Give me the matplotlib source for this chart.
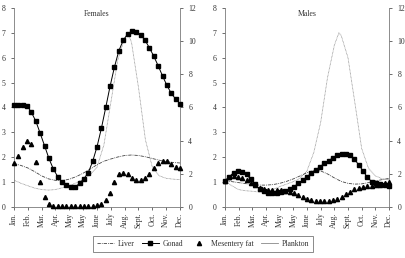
import matplotlib
matplotlib.use('Agg')
import matplotlib.pyplot as plt
import numpy as np
from matplotlib.lines import Line2D

plt.rcParams['font.family'] = ['Liberation Serif', 'DejaVu Serif']

months = ['Jan.', 'Feb.', 'Mar.', 'Apr.', 'May', 'May', 'June', 'July',
          'Aug.', 'Sept.', 'Oct.', 'Nov.', 'Dec.']

# 39 sampling dates spanning Jan..Dec
n_samples = 39

fem_gonad = [4.1, 4.1, 4.1, 4.07, 3.8, 3.45, 2.96, 2.46, 1.95, 1.53, 1.22, 1.02, 0.88,
             0.82, 0.8, 0.95, 1.14, 1.38, 1.83, 2.42, 3.16, 4.0, 4.86, 5.63, 6.28, 6.7,
             6.95, 7.07, 7.03, 6.93, 6.7, 6.4, 6.06, 5.68, 5.27, 4.89, 4.57, 4.34, 4.16]
fem_mesentery = [1.75, 2.05, 2.42, 2.66, 2.53, 1.82, 1.0, 0.39, 0.12, 0.05, 0.05, 0.05, 0.05,
                 0.05, 0.05, 0.05, 0.05, 0.05, 0.05, 0.07, 0.12, 0.28, 0.57, 1.02, 1.33, 1.38,
                 1.33, 1.15, 1.08, 1.08, 1.15, 1.33, 1.55, 1.78, 1.85, 1.85, 1.73, 1.62, 1.56]
male_gonad = [1.06, 1.22, 1.38, 1.46, 1.42, 1.31, 1.11, 0.91, 0.72, 0.64, 0.57, 0.55, 0.57,
              0.61, 0.65, 0.71, 0.82, 0.95, 1.08, 1.22, 1.35, 1.49, 1.62, 1.75, 1.86, 1.98,
              2.09, 2.14, 2.15, 2.09, 1.92, 1.69, 1.45, 1.19, 1.02, 0.95, 0.91, 0.88, 0.86]
male_mesentery = [1.06, 1.19, 1.25, 1.22, 1.15, 1.08, 0.98, 0.88, 0.78, 0.71, 0.68, 0.68, 0.68,
                  0.68, 0.66, 0.61, 0.55, 0.48, 0.39, 0.32, 0.28, 0.24, 0.24, 0.24, 0.24, 0.28,
                  0.33, 0.41, 0.52, 0.61, 0.71, 0.78, 0.82, 0.84, 0.86, 0.88, 0.9, 0.95, 0.99]

# liver, half-month readings
half_t = np.arange(0, 12.5, 0.5)
fem_liver = [1.75, 1.67, 1.57, 1.42, 1.25, 1.13, 1.07, 1.06, 1.12, 1.22, 1.36, 1.52, 1.7,
             1.84, 1.93, 2.01, 2.07, 2.09, 2.07, 2.02, 1.95, 1.88, 1.83, 1.79, 1.77]
male_liver = [1.05, 1.02, 0.98, 0.94, 0.9, 0.88, 0.88, 0.9, 0.95, 1.03, 1.13, 1.25, 1.38,
              1.47, 1.45, 1.33, 1.17, 1.03, 0.95, 0.92, 0.93, 0.98, 1.05, 1.1, 1.15]

# plankton (right axis units)
fem_plank_t = [0, 0.5, 1, 1.5, 2, 2.5, 3, 3.5, 4, 4.5, 5, 5.5, 6, 6.5, 7, 7.5, 8, 8.25,
               8.5, 9, 9.5, 10, 10.5, 11, 11.5, 12]
fem_plankton = [1.62, 1.43, 1.28, 1.14, 1.05, 1.02, 1.05, 1.16, 1.28, 1.46, 1.68, 1.95, 2.4,
                3.75, 6.3, 8.85, 10.2, 10.5, 9.9, 7.2, 4.05, 2.4, 1.88, 1.73, 1.68, 1.65]
male_plank_t = [0, 0.5, 1, 1.5, 2, 2.5, 3, 3.5, 4, 4.5, 5, 5.5, 6, 6.5, 7, 7.5, 8, 8.33,
                8.5, 9, 9.5, 10, 10.5, 11, 11.5, 12]
male_plankton = [1.58, 1.28, 1.05, 0.98, 0.95, 0.9, 0.93, 1.05, 1.23, 1.38, 1.53, 1.73, 2.18,
                 3.3, 5.1, 7.8, 9.75, 10.5, 10.35, 9.0, 6.3, 3.53, 2.33, 1.88, 1.7, 1.65]

W, H = 406, 258
fig = plt.figure(figsize=(W / 100, H / 100), dpi=100)

axcol = '#7a7a7a'
txtcol = '#333333'
fs = 5.6

panels = [
    ('Females', 14, 180, fem_gonad, fem_mesentery, fem_liver, fem_plank_t, fem_plankton),
    ('Males', 225, 389, male_gonad, male_mesentery, male_liver, male_plank_t, male_plankton),
]

sample_t = np.linspace(0, 12, n_samples)
y0, y1 = 207, 8

for title, xa, xb, gon, mes, liv, pt, pl in panels:
    ax = fig.add_axes([xa / W, 1 - y0 / H, (xb - xa) / W, (y0 - y1) / H])
    ax2 = ax.twinx()
    ax.set_xlim(0, 12)
    ax.set_ylim(0, 8)
    ax2.set_ylim(0, 12)
    ax.plot(half_t, liv, color='#444444', lw=0.6, ls=(0, (4, 1.2, 1, 1.2)), zorder=2)
    ax2.plot(pt, pl, color='#888888', lw=0.55, ls=(0, (1, 0.8)), zorder=2)
    ax.plot(sample_t, gon, color='black', lw=0.7, marker='s', ms=2.2, mec='black',
            mfc='black', zorder=4, clip_on=False)
    ax.plot(sample_t, mes, color='black', lw=0, marker='^', ms=3.0, zorder=4, clip_on=False)
    ax.set_zorder(ax2.get_zorder() + 1)
    ax.patch.set_visible(False)

    ax.set_xticks(range(13))
    ax.set_xticklabels(months, rotation=90, fontsize=fs, color=txtcol)
    ax.set_yticks(range(9))
    ax.tick_params(axis='y', labelsize=fs, colors=txtcol, length=2, width=0.5, pad=4)
    ax.tick_params(axis='x', length=2, width=0.5, pad=2, colors=txtcol)
    ax2.set_yticks(range(0, 13, 2))
    ax2.tick_params(axis='y', labelsize=fs, colors=txtcol, length=2, width=0.5, pad=4)
    for a in (ax, ax2):
        for s in a.spines.values():
            s.set_color(axcol)
            s.set_linewidth(0.6)
        a.spines['top'].set_visible(False)
    ax.spines['right'].set_visible(False)
    ax2.spines['left'].set_visible(False)
    ax2.spines['bottom'].set_visible(False)
    for t in ax.get_xticklines() + ax.get_yticklines() + ax2.get_yticklines():
        t.set_color(axcol)
    ax.text(0.5, 0.97, title, transform=ax.transAxes, ha='center', va='center',
            fontsize=fs, color=txtcol)

handles = [
    Line2D([], [], color='#444444', lw=0.6, ls=(0, (4, 1.2, 1, 1.2))),
    Line2D([], [], color='black', lw=0.7, marker='s', ms=2.2),
    Line2D([], [], color='black', lw=0, marker='^', ms=3.0),
    Line2D([], [], color='#888888', lw=0.6),
]
labels = ['Liver', 'Gonad', 'Mesentery fat', 'Plankton']
leg = fig.legend(handles, labels, loc='center', bbox_to_anchor=(203 / W, 1 - 244 / H),
                 ncol=4, fontsize=fs, frameon=True, fancybox=False, handlelength=2.2,
                 columnspacing=0.9, handletextpad=0.5, borderpad=0.5, labelcolor=txtcol)
leg.get_frame().set_edgecolor('#555555')
leg.get_frame().set_linewidth(0.6)

fig.savefig('out.png', dpi=100)
